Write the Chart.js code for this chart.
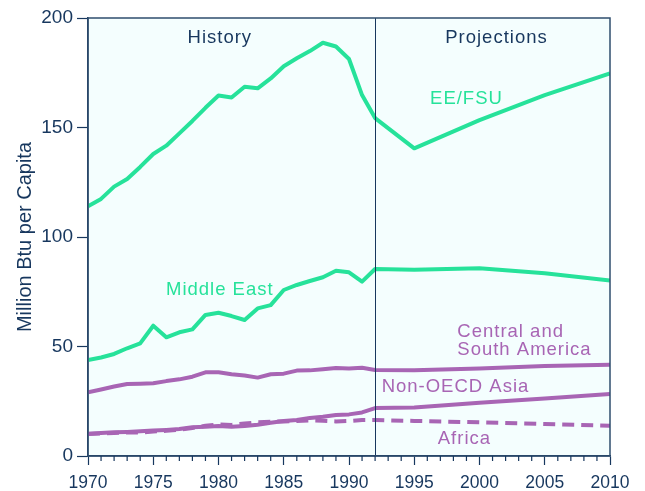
<!DOCTYPE html>
<html>
<head>
<meta charset="utf-8">
<script src="https://cdn.jsdelivr.net/npm/chart.js@4"></script>
<style>
html,body{margin:0;padding:0;background:#ffffff;}
#wrap{width:645px;height:491px;}
</style>
</head>
<body>
<div id="wrap"><canvas id="c" width="645" height="491"></canvas></div>
<script>
// ---- data ----
const years = [1970,1971,1972,1973,1974,1975,1976,1977,1978,1979,1980,1981,1982,1983,1984,1985,1986,1987,1988,1989,1990,1991,1992,1995,2000,2005,2010];
const eeFsu = [114,117.4,123,126.5,132,137.9,141.7,147.3,153,159,164.6,163.7,168.6,167.9,172.4,178,181.6,184.9,188.7,187,181.3,164.8,154.3,140.5,153.4,164.8,174.7];
const middleEast = [43.8,45,46.6,49.2,51.4,59.5,54.2,56.5,57.8,64.4,65.4,63.9,62.1,67.4,68.9,75.8,78.1,79.9,81.6,84.6,83.9,79.6,85.4,85.1,85.7,83.4,80.1];
const centralSouthAmerica = [29.1,30.4,31.7,32.9,33,33.2,34.2,35,36.2,38.2,38.2,37.3,36.8,35.8,37.3,37.6,39,39.1,39.6,40.2,40,40.3,39.3,39.1,40,41.1,41.7];
const nonOecdAsia = [10.2,10.5,10.8,11,11.3,11.6,11.9,12.3,13.1,13.4,13.7,13.4,13.7,14.3,15.2,16,16.4,17.4,17.9,18.7,19,19.9,21.9,22.2,24.3,26.3,28.3];
const africa = [10,10.3,10.5,10.8,10.7,11.2,11.5,12,12.8,13.8,14.4,14.2,14.8,15.4,15.6,15.8,16,16.2,16.1,15.8,16,16.4,16.4,16,15.4,14.6,13.8];
const yTicks = [0,50,100,150,200];
const xMajorTicks = [1970,1975,1980,1985,1990,1995,2000,2005,2010];
const dividerYear = 1992;
const sectionLabels = ["History","Projections"];
const seriesLabels = ["EE/FSU","Middle East","Central and","South America","Non-OECD Asia","Africa"];

// ---- styles ----
const NAVY = '#17375e';
const GREEN = '#26e29a';
const PURPLE = '#a865b4';
const FONT = '"Liberation Sans", Arial, sans-serif';

const pts = arr => years.map((y,i)=>({x:y,y:arr[i]}));

const decor = {
  id:'decor',
  beforeDraw(chart){
    const {ctx, chartArea:a} = chart;
    ctx.save();
    ctx.fillStyle = '#f4fefe';
    ctx.fillRect(a.left, a.top, a.right-a.left, a.bottom-a.top);
    ctx.restore();
  },
  afterDatasetsDraw(chart){
    const {ctx, chartArea:a, scales:{x,y}} = chart;
    ctx.save();
    // divider
    const dx = Math.round(x.getPixelForValue(dividerYear))+0.5;
    ctx.strokeStyle = NAVY; ctx.lineWidth = 1;
    ctx.beginPath(); ctx.moveTo(dx,a.top); ctx.lineTo(dx,a.bottom); ctx.stroke();
    // border
    ctx.strokeStyle = '#2f4e6e'; ctx.lineWidth = 1.5;
    ctx.strokeRect(a.left, a.top, a.right-a.left, a.bottom-a.top);
    // minor x ticks
    ctx.strokeStyle = NAVY; ctx.lineWidth = 1.2;
    for (let v = x.min; v <= x.max; v++) {
      if (v % 5 === 0) continue;
      const px = x.getPixelForValue(v);
      ctx.beginPath(); ctx.moveTo(px,a.bottom); ctx.lineTo(px,a.bottom+5); ctx.stroke();
    }
    // labels
    try { ctx.letterSpacing = '1px'; } catch(e) {}
    ctx.textBaseline = 'middle';
    const put = (t, xv, yv, color, align) => {
      ctx.fillStyle = color; ctx.textAlign = align;
      ctx.font = '18.5px ' + FONT;
      ctx.fillText(t, x.getPixelForValue(xv), y.getPixelForValue(yv));
    };
    put(sectionLabels[0], 1980.1, 190.9, NAVY, 'center');
    put(sectionLabels[1], 2001.3, 190.9, NAVY, 'center');
    put(seriesLabels[0], 1999.0, 163, GREEN, 'center');
    put(seriesLabels[1], 1980.1, 75.8, GREEN, 'center');
    put(seriesLabels[2], 1998.3, 56.6, PURPLE, 'left');
    put(seriesLabels[3], 1998.3, 48.4, PURPLE, 'left');
    put(seriesLabels[4], 1992.5, 31.5, PURPLE, 'left');
    put(seriesLabels[5], 1996.8, 7.8, PURPLE, 'left');
    ctx.restore();
  }
};

const ds = (label, data, color, dash) => ({
  label, data: pts(data), borderColor: color, backgroundColor: color,
  borderWidth: 4, pointRadius: 0, tension: 0, fill: false,
  borderDash: dash || [], borderCapStyle: 'butt', borderJoinStyle: 'round'
});

new Chart(document.getElementById('c'), {
  type: 'line',
  data: {
    datasets: [
      ds('EE/FSU', eeFsu, GREEN),
      ds('Middle East', middleEast, GREEN),
      ds('Central and South America', centralSouthAmerica, PURPLE),
      ds('Non-OECD Asia', nonOecdAsia, PURPLE),
      ds('Africa', africa, PURPLE, [12,7])
    ]
  },
  options: {
    responsive: false,
    animation: false,
    events: [],
    layout: { padding: { top: 18, right: 35, left: 0, bottom: 0 } },
    plugins: { legend: { display: false }, tooltip: { enabled: false } },
    scales: {
      x: {
        type: 'linear', min: 1970, max: 2010,
        afterFit(s){ s.height = 35; },
        afterBuildTicks(s){ s.ticks = []; for (let v=1970; v<=2010; v++) s.ticks.push({value:v}); },
        border: { display: true, color: NAVY, width: 1.5 },
        grid: {
          display: true, drawOnChartArea: false, drawTicks: true, tickLength: 9,
          tickColor: c => (c.tick && c.tick.value % 5 === 0) ? NAVY : 'rgba(0,0,0,0)',
          tickWidth: 1.2
        },
        ticks: {
          autoSkip: false, maxRotation: 0, padding: 8,
          color: NAVY, font: { family: FONT, size: 17.5 },
          callback: v => xMajorTicks.includes(v) ? String(v) : ''
        }
      },
      y: {
        min: 0, max: 200,
        afterFit(s){ s.width = 88; },
        afterBuildTicks(s){ s.ticks = yTicks.map(v=>({value:v})); },
        border: { display: true, color: NAVY, width: 1.5 },
        grid: { display: true, drawOnChartArea: false, drawTicks: true, tickLength: 11, tickColor: NAVY, tickWidth: 1.2 },
        ticks: { padding: 4, color: NAVY, font: { family: FONT, size: 19 } },
        title: {
          display: true, text: 'Million Btu per Capita', color: NAVY,
          font: { family: FONT, size: 20 }, padding: { top: 13, bottom: 0 }
        }
      }
    }
  },
  plugins: [decor]
});
</script>
</body>
</html>
